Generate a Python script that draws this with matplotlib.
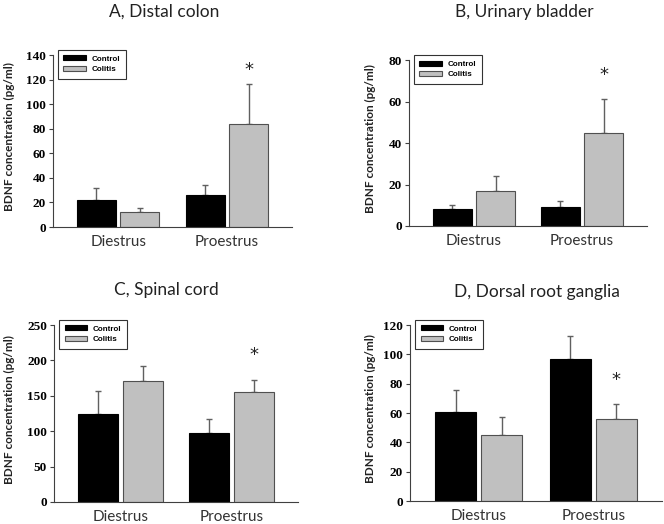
import matplotlib
matplotlib.use("Agg")
import matplotlib.pyplot as plt
import numpy as np

# data
phases = ["Diestrus", "Proestrus"]
groups = ["Control", "Colitis"]

titles = ["A, Distal colon", "B, Urinary bladder", "C, Spinal cord", "D, Dorsal root ganglia"]

control_mean = [[22, 26], [8, 9.3], [124, 97], [61, 97]]
control_sem = [[10, 8.5], [2, 2.7], [33, 20], [15, 15.5]]
colitis_mean = [[12, 83.5], [17, 45], [171, 155], [45, 56]]
colitis_sem = [[3.5, 32.5], [7, 16], [21, 17], [12.5, 10]]

# significant bar: (phase index, group)
sig_marks = [(1, "Colitis"), (1, "Colitis"), (1, "Colitis"), (1, "Colitis")]

y_max = [140, 80, 250, 120]
y_step = [20, 20, 50, 20]

W, H = 664, 524
# axes rectangles in pixels: left, right, top, bottom
boxes = [(53, 292, 55, 227), (409, 647, 60, 226), (54, 298, 325, 502), (410, 662, 325, 501)]
title_pos = [(164, 12), (524, 12), (166, 290), (537, 292)]
ylabel_x = [9, 370, 9, 370]
star_off = [4, 11, 12, 11]

tick_font = dict(family="Liberation Serif", weight="bold", size=9.5)
sans = "Lato"

fig = plt.figure(figsize=(W / 100, H / 100), dpi=100)

x = np.arange(len(phases))
bw = 0.36
off = 0.2

for i in range(4):
    l, r, t, b = boxes[i]
    ax = fig.add_axes([l / W, 1 - b / H, (r - l) / W, (b - t) / H])

    ax.bar(x - off, control_mean[i], bw, color="black", edgecolor="black", lw=0.8,
           label="Control", zorder=2)
    ax.bar(x + off, colitis_mean[i], bw, color="#c0c0c0", edgecolor="#505050", lw=0.8,
           label="Colitis", zorder=2)
    # only upper error bars
    ax.errorbar(x - off, control_mean[i], yerr=[np.zeros(2), control_sem[i]], fmt="none",
                ecolor="#606060", elinewidth=1, capsize=2.5, capthick=1, zorder=1)
    ax.errorbar(x + off, colitis_mean[i], yerr=[np.zeros(2), colitis_sem[i]], fmt="none",
                ecolor="#606060", elinewidth=1, capsize=2.5, capthick=1, zorder=1)

    p, g = sig_marks[i]
    if g == "Colitis":
        sx, sy = x[p] + off, colitis_mean[i][p] + colitis_sem[i][p]
    else:
        sx, sy = x[p] - off, control_mean[i][p] + control_sem[i][p]
    ax.annotate("*", (sx, sy), xytext=(0, star_off[i]), textcoords="offset points",
                ha="center", va="bottom", fontsize=13, color="#222222")

    ax.set_xlim(-0.6, 1.6)
    ax.set_ylim(0, y_max[i])
    ax.set_yticks(np.arange(0, y_max[i] + 1, y_step[i]))
    ax.set_yticklabels([str(v) for v in np.arange(0, y_max[i] + 1, y_step[i])], **tick_font)
    ax.set_xticks(x)
    ax.set_xticklabels(phases, family=sans, fontsize=11, color="#333333")
    ax.tick_params(axis="x", length=0, pad=6)
    ax.tick_params(axis="y", length=3, width=0.8, color="#404040", pad=2)

    for s in ["top", "right"]:
        ax.spines[s].set_visible(False)
    for s in ["left", "bottom"]:
        ax.spines[s].set_color("#404040")
        ax.spines[s].set_linewidth(0.8)

    leg = ax.legend(loc="upper left", bbox_to_anchor=(0.02, 1.03), frameon=True, fancybox=False,
                    prop=dict(family="Liberation Sans", weight="bold", size=5.8),
                    handlelength=2.8, handleheight=0.55, handletextpad=0.7,
                    borderpad=0.7, labelspacing=0.4, borderaxespad=0)
    leg.get_frame().set_edgecolor("black")
    leg.get_frame().set_linewidth(0.8)

    tx, ty = title_pos[i]
    fig.text(tx / W, 1 - ty / H, titles[i], family=sans, fontsize=12.5, ha="center",
             va="center", color="#222222")
    fig.text(ylabel_x[i] / W, 1 - ((t + b) / 2 - 4) / H, "BDNF concentration (pg/ml)",
             family=sans, weight="bold", fontsize=8.5, rotation=90, ha="center",
             va="center", color="#222222")

fig.savefig("out.png", dpi=100)
